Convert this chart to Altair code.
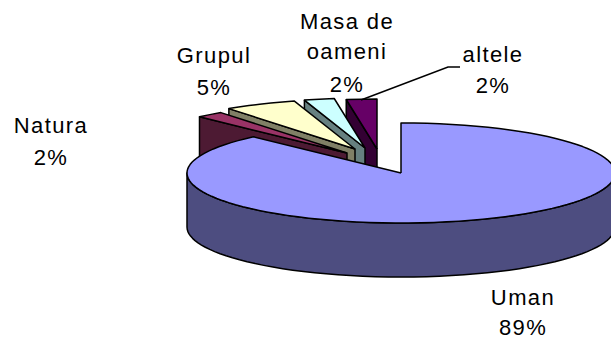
import math
import altair as alt

# Chart values
categories = ["altele", "Masa de oameni", "Grupul", "Natura", "Uman"]
shares = [2, 2, 5, 2, 89]

# Slices run clockwise from 12 o'clock in this order
pie_order = ["Uman", "Natura", "Grupul", "Masa de oameni", "altele"]

top_colors = ["#660066", "#CCFFFF", "#FFFFCC", "#993366", "#9999FF"]
side_colors = ["#330033", "#668080", "#808066", "#4D1A33", "#4D4D80"]

label_texts = [
    ["Natura", "2%"],
    ["Grupul", "5%"],
    ["Masa de", "oameni", "2%"],
    ["altele", "2%"],
    ["Uman", "89%"],
]

# Layout of the tilted pie (page pixels)
CX, CY, RX, RY, DEPTH, SKEW = 401, 173, 214, 50, 54, 1.15
apex_by_cat = {
    "altele": (377, 149),
    "Masa de oameni": (365, 148),
    "Grupul": (355, 149),
    "Natura": (347, 153),
    "Uman": (CX, CY),
}
label_pos = [
    (51, [133, 165]),
    (214, [63, 95]),
    (347, [29, 59, 92]),
    (493, [62, 93]),
    (523, [305, 335]),
]
leader_x = [361, 448, 460]
leader_y = [100, 67, 67]

W, H = 603, 335
x_scale = alt.Scale(domain=[8, 8 + W], range=[0, W], nice=False, zero=False)
y_scale = alt.Scale(domain=[8, 8 + H], range=[0, H], nice=False, zero=False)


def rim(theta_deg, apex):
    t = math.radians(theta_deg)
    phi = math.atan2(SKEW * math.sin(t), math.cos(t))
    return apex[0] + RX * math.sin(phi), apex[1] - RY * math.cos(phi)


def arc(a0, a1, apex, step=3.0):
    n = max(1, int(abs(a1 - a0) / step))
    return [rim(a0 + (a1 - a0) * i / n, apex) for i in range(n + 1)]


def poly(points, fill):
    rows = [{"x": p[0], "y": p[1], "i": i} for i, p in enumerate(points + points[:1])]
    return (
        alt.Chart(alt.Data(values=rows))
        .mark_line(fill=fill, stroke="#000000", strokeWidth=1.5, strokeJoin="round", clip=False)
        .encode(
            x=alt.X("x:Q", scale=x_scale, axis=None),
            y=alt.Y("y:Q", scale=y_scale, axis=None),
            order="i:Q",
        )
    )


share_of = dict(zip(categories, shares))
top_of = dict(zip(categories, top_colors))
side_of = dict(zip(categories, side_colors))
total = sum(shares)
span = {}
acc = 0.0
for c in pie_order:
    a = acc + 360.0 * share_of[c] / total
    span[c] = (acc, a)
    acc = a

layers = []
for c in categories:  # back to front
    a0, a1 = span[c]
    ap = apex_by_cat[c]
    if c == "Uman":
        wall_top = arc(90, 270, ap)
        wall_bottom = [(x, y + DEPTH) for x, y in reversed(wall_top)]
        layers.append(poly(wall_top + wall_bottom, side_of[c]))
    else:
        corner = rim(a0, ap)
        layers.append(
            poly(
                [corner, ap, (ap[0], ap[1] + DEPTH), (corner[0], corner[1] + DEPTH)],
                side_of[c],
            )
        )
    layers.append(poly([ap] + arc(a0, a1, ap), top_of[c]))

leader_rows = [{"x": x, "y": y, "i": i} for i, (x, y) in enumerate(zip(leader_x, leader_y))]
layers.append(
    alt.Chart(alt.Data(values=leader_rows))
    .mark_line(color="#000000", strokeWidth=1.5)
    .encode(
        x=alt.X("x:Q", scale=x_scale, axis=None),
        y=alt.Y("y:Q", scale=y_scale, axis=None),
        order="i:Q",
    )
)

for lines, (px, ys) in zip(label_texts, label_pos):
    for line, py in zip(lines, ys):
        layers.append(
            alt.Chart(alt.Data(values=[{"t": line}]))
            .mark_text(font="Liberation Sans", fontSize=22, align="center", baseline="alphabetic", color="#000000")
            .encode(text="t:N", x=alt.value(px - 8), y=alt.value(py - 8))
        )

chart = (
    alt.layer(*layers)
    .properties(width=W, height=H, padding=0, background="#ffffff",
                autosize=alt.AutoSizeParams(type="none"))
    .configure_view(stroke=None)
)
chart.save(
    "out.html",
    embed_options={
        "renderer": "svg",
        "actions": False,
        "defaultStyle": "body{margin:8px 0 0 8px} .vega-embed{display:block!important} svg{display:block} text{letter-spacing:1.4px}",
    },
)
